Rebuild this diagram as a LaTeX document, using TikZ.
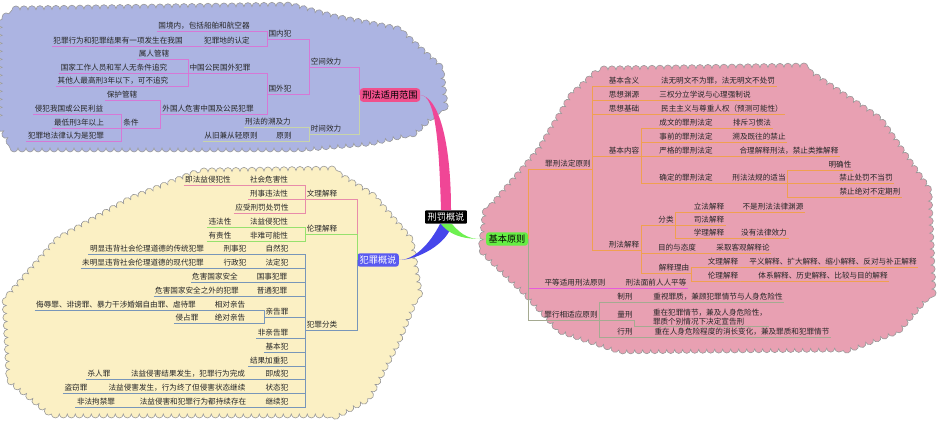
\documentclass[tikz,border=0pt]{standalone}
\usepackage{fontspec}
\setmainfont{Noto Sans CJK SC}
\usetikzlibrary{decorations.pathmorphing}
\definecolor{cloudB}{RGB}{172,180,226}
\definecolor{cloudY}{RGB}{251,240,196}
\definecolor{cloudP}{RGB}{232,160,178}
\definecolor{topM}{RGB}{214,120,214}
\definecolor{topT}{RGB}{200,212,170}
\definecolor{yelP}{RGB}{232,140,170}
\definecolor{yelG}{RGB}{150,225,110}
\definecolor{yelB}{RGB}{120,150,185}
\definecolor{pinkO}{RGB}{240,160,80}
\definecolor{pinkM}{RGB}{230,90,220}
\definecolor{pinkG}{RGB}{165,170,145}
\definecolor{scopeC}{RGB}{240,80,140}
\definecolor{crimeC}{RGB}{90,90,240}
\definecolor{basicC}{RGB}{102,238,68}
\definecolor{scopeL}{RGB}{240,70,150}
\definecolor{crimeL}{RGB}{70,70,235}
\definecolor{basicL}{RGB}{110,240,80}
\begin{document}
\begin{tikzpicture}[x=1pt,y=-1pt]
\tikzstyle{t}=[inner xsep=1.5pt,inner ysep=1.2pt,font=\fontsize{7.6}{9}\selectfont,text=black!85]
\tikzstyle{ul}=[append after command={(\tikzlastnode.south west) edge[#1,semithick] (\tikzlastnode.south east)}]
\tikzstyle{cloud}=[draw=black!40,semithick,decorate,decoration={bumps,segment length=16pt,amplitude=4pt}]
\tikzstyle{mainbox}=[rounded corners=3pt,inner sep=2.5pt,font=\fontsize{9.2}{11}\selectfont]
\useasboundingbox (0,0) rectangle (950,430);

% Clouds
\path[cloud,fill=cloudB] (12,10) -- (290,6) -- (335,18) -- (398,30) -- (440,68) -- (444,104) -- (414,132) -- (370,142) -- (300,148) -- (14,148) -- (2,128) -- (2,22) -- cycle;
\path[cloud,fill=cloudY] (200,172) -- (330,170) -- (372,196) -- (410,240) -- (418,290) -- (398,340) -- (368,398) -- (338,414) -- (52,414) -- (10,380) -- (6,300) -- (58,240) -- (130,200) -- cycle;
\path[cloud,fill=cloudP] (600,70) -- (800,67) -- (880,120) -- (928,190) -- (932,290) -- (898,330) -- (850,348) -- (620,350) -- (560,330) -- (525,292) -- (482,250) -- (486,214) -- (540,150) -- (572,96) -- cycle;

% Centre and main branches
\node (ctr) [mainbox,fill=black,text=white,rounded corners=1pt] at (446,217) {刑罚概说};
\node (scope) [mainbox,fill=scopeC] at (390,95) {刑法适用范围};
\node (crime) [mainbox,fill=crimeC,text=white] at (378,260) {犯罪概说};
\node (basic) [mainbox,fill=basicC] at (507,239) {基本原则};
\fill[scopeL] ([xshift=-5pt]ctr.north) .. controls +(-2,-70) and +(15,0) .. (scope.east) .. controls +(18,2) and +(0,-70) .. ([xshift=5pt]ctr.north);
\fill[crimeL] ([xshift=-6pt]ctr.south) .. controls +(-10,20) and +(15,0) .. (crime.east) .. controls +(18,0) and +(-4,20) .. ([xshift=6pt]ctr.south);
\fill[basicL] ([xshift=-5pt]ctr.south) .. controls +(12,15) and +(-15,0) .. (basic.west) .. controls +(-15,1) and +(10,12) .. ([xshift=6pt]ctr.south);

% 刑法适用范围
\node (kj) [t,ul=topM] at (326,62) {空间效力};
\node (gn) [t,ul=topM] at (280,34) {国内犯};
\node (gjn) [t,ul=topM] at (204,26) {国境内，包括船舶和航空器};
\node (fzd) [t,ul=topM] at (227,41) {犯罪地的认定};
\node (fzx) [t,ul=topM] at (118,41) {犯罪行为和犯罪结果有一项发生在我国};
\node (gw) [t,ul=topM] at (280,89) {国外犯};
\node (zgg) [t,ul=topM] at (220,68) {中国公民国外犯罪};
\node (srg) [t,ul=topM] at (154,54) {属人管辖};
\node (gjg) [t,ul=topM] at (114,68) {国家工作人员和军人无条件追究};
\node (qtr) [t,ul=topM] at (113,81) {其他人最高刑3年以下，可不追究};
\node (wgr) [t,ul=topM] at (208,109) {外国人危害中国及公民犯罪};
\node (bhg) [t,ul=topM] at (122,95) {保护管辖};
\node (tj) [t,ul=topM] at (131,123) {条件};
\node (qf) [t,ul=topM] at (69,109) {侵犯我国或公民利益};
\node (zdx) [t,ul=topM] at (79,123) {最低刑3年以上};
\node (fzdf) [t,ul=topM] at (66,136) {犯罪地法律认为是犯罪};
\node (sj) [t,ul=topT] at (326,129) {时间效力};
\node (sjl) [t,ul=topT] at (268,122) {刑法的溯及力};
\node (yz) [t,ul=topT] at (284,136) {原则};
\node (cjc) [t,ul=topT] at (231,136) {从旧兼从轻原则};
\draw[topM,semithick] (scope.west) |- (kj.south east);
\draw[topT,semithick] (scope.west) |- (sj.south east);
\foreach \p/\c in {kj/gn,kj/gw,gn/gjn,gn/fzd,fzd/fzx,gw/zgg,gw/wgr,zgg/srg,zgg/gjg,zgg/qtr,wgr/bhg,wgr/tj,tj/qf,tj/zdx,tj/fzdf}
  \draw[topM,semithick] (\p.south west) |- (\c.south east);
\foreach \p/\c in {sj/sjl,sj/yz,yz/cjc}
  \draw[topT,semithick] (\p.south west) |- (\c.south east);

% 犯罪概说
\node (wl) [t,ul=yelP] at (322,194) {文理解释};
\node (shh) [t,ul=yelP] at (269,180) {社会危害性};
\node (fyq) [t,ul=yelP] at (208,180) {即法益侵犯性};
\node (xsw) [t,ul=yelP] at (269,194) {刑事违法性};
\node (yss) [t,ul=yelP] at (262,208) {应受刑罚处罚性};
\node (ll) [t,ul=yelG] at (322,229) {伦理解释};
\node (fyqf) [t,ul=yelG] at (269,222) {法益侵犯性};
\node (wfx) [t,ul=yelG] at (220,222) {违法性};
\node (fnk) [t,ul=yelG] at (269,236) {非难可能性};
\node (yzx) [t,ul=yelG] at (220,236) {有责性};
\node (fl) [t,ul=yelB] at (322,325) {犯罪分类};
\node (zrf) [t,ul=yelB] at (277,249) {自然犯};
\node (xsf) [t,ul=yelB] at (235,249) {刑事犯};
\node (mx) [t,ul=yelB] at (147,249) {明显违背社会伦理道德的传统犯罪};
\node (fdf) [t,ul=yelB] at (277,263) {法定犯};
\node (xzf) [t,ul=yelB] at (235,263) {行政犯};
\node (wmx) [t,ul=yelB] at (143,263) {未明显违背社会伦理道德的现代犯罪};
\node (gsf) [t,ul=yelB] at (272,277) {国事犯罪};
\node (wh) [t,ul=yelB] at (215,277) {危害国家安全};
\node (ptf) [t,ul=yelB] at (272,291) {普通犯罪};
\node (whw) [t,ul=yelB] at (197,291) {危害国家安全之外的犯罪};
\node (qgz) [t,ul=yelB] at (277,312) {亲告罪};
\node (xdq) [t,ul=yelB] at (230,305) {相对亲告};
\node (wr) [t,ul=yelB] at (116,305) {侮辱罪、诽谤罪、暴力干涉婚姻自由罪、虐待罪};
\node (jdq) [t,ul=yelB] at (230,318) {绝对亲告};
\node (qzz) [t,ul=yelB] at (187,318) {侵占罪};
\node (fqg) [t,ul=yelB] at (273,333) {非亲告罪};
\node (jbf) [t,ul=yelB] at (277,347) {基本犯};
\node (jgj) [t,ul=yelB] at (269,361) {结果加重犯};
\node (jcf) [t,ul=yelB] at (277,374) {即成犯};
\node (jcd) [t,ul=yelB] at (188,374) {法益侵害结果发生，犯罪行为完成};
\node (srz) [t,ul=yelB] at (99,374) {杀人罪};
\node (ztf) [t,ul=yelB] at (277,388) {状态犯};
\node (ztd) [t,ul=yelB] at (177,388) {法益侵害发生，行为终了但侵害状态继续};
\node (dqz) [t,ul=yelB] at (76,388) {盗窃罪};
\node (jxf) [t,ul=yelB] at (277,402) {继续犯};
\node (jxd) [t,ul=yelB] at (193,402) {法益侵害和犯罪行为都持续存在};
\node (ffj) [t,ul=yelB] at (96,402) {非法拘禁罪};
\draw[yelP,semithick] (crime.west) |- (wl.south east);
\draw[yelG,semithick] (crime.west) |- (ll.south east);
\draw[yelB,semithick] (crime.west) |- (fl.south east);
\foreach \p/\c in {wl/shh,wl/xsw,wl/yss,shh/fyq}
  \draw[yelP,semithick] (\p.south west) |- (\c.south east);
\foreach \p/\c in {ll/fyqf,ll/fnk,fyqf/wfx,fnk/yzx}
  \draw[yelG,semithick] (\p.south west) |- (\c.south east);
\foreach \p/\c in {fl/zrf,fl/fdf,fl/gsf,fl/ptf,fl/qgz,fl/fqg,fl/jbf,fl/jgj,fl/jcf,fl/ztf,fl/jxf,zrf/xsf,xsf/mx,fdf/xzf,xzf/wmx,gsf/wh,ptf/whw,qgz/xdq,qgz/jdq,xdq/wr,jdq/qzz,jcf/jcd,jcd/srz,ztf/ztd,ztd/dqz,jxf/jxd,jxd/ffj}
  \draw[yelB,semithick] (\p.south west) |- (\c.south east);

% 基本原则
\node (zxfd) [t,ul=pinkO] at (568,164) {罪刑法定原则};
\node (jbhy) [t,ul=pinkO] at (624,81) {基本含义};
\node (jbhyd) [t,ul=pinkO] at (718,81) {法无明文不为罪，法无明文不处罚};
\node (sxyy) [t,ul=pinkO] at (624,95) {思想渊源};
\node (sxyyd) [t,ul=pinkO] at (705,95) {三权分立学说与心理强制说};
\node (sxjc) [t,ul=pinkO] at (624,109) {思想基础};
\node (sxjcd) [t,ul=pinkO] at (722,109) {民主主义与尊重人权（预测可能性）};
\node (jbnr) [t,ul=pinkO] at (624,151) {基本内容};
\node (cw) [t,ul=pinkO] at (686,123) {成文的罪刑法定};
\node (cwd) [t,ul=pinkO] at (752,123) {排斥习惯法};
\node (sq) [t,ul=pinkO] at (686,137) {事前的罪刑法定};
\node (sqd) [t,ul=pinkO] at (759,137) {溯及既往的禁止};
\node (yg) [t,ul=pinkO] at (686,151) {严格的罪刑法定};
\node (ygd) [t,ul=pinkO] at (789,151) {合理解释刑法，禁止类推解释};
\node (qd) [t,ul=pinkO] at (686,178) {确定的罪刑法定};
\node (sd) [t,ul=pinkO] at (759,178) {刑法法规的适当};
\node (mqx) [t,ul=pinkO] at (840,165) {明确性};
\node (jzcf) [t,ul=pinkO] at (866,178) {禁止处罚不当罚};
\node (jzjd) [t,ul=pinkO] at (870,192) {禁止绝对不定期刑};
\node (xfjs) [t,ul=pinkO] at (624,245) {刑法解释};
\node (flei) [t,ul=pinkO] at (666,220) {分类};
\node (lfjs) [t,ul=pinkO] at (709,207) {立法解释};
\node (lfjsd) [t,ul=pinkO] at (773,207) {不是刑法法律渊源};
\node (sfjs) [t,ul=pinkO] at (709,220) {司法解释};
\node (xljs) [t,ul=pinkO] at (709,233) {学理解释};
\node (xljsd) [t,ul=pinkO] at (764,233) {没有法律效力};
\node (mdty) [t,ul=pinkO] at (677,248) {目的与态度};
\node (mdtyd) [t,ul=pinkO] at (743,248) {采取客观解释论};
\node (jsly) [t,ul=pinkO] at (674,268) {解释理由};
\node (wljs) [t,ul=pinkO] at (723,262) {文理解释};
\node (wljsd) [t,ul=pinkO] at (833,262) {平义解释、扩大解释、缩小解释、反对与补正解释};
\node (lljs) [t,ul=pinkO] at (723,276) {伦理解释};
\node (lljsd) [t,ul=pinkO] at (823,276) {体系解释、历史解释、比较与目的解释};
\node (pd) [t,ul=pinkM] at (575,283) {平等适用刑法原则};
\node (pdd) [t,ul=pinkM] at (656,283) {刑法面前人人平等};
\node (zxxs) [t,ul=pinkG] at (571,315) {罪行相适应原则};
\node (zx) [t,ul=pinkG] at (625,297) {制刑};
\node (zxd) [t,ul=pinkG] at (718,297) {重视罪质，兼顾犯罪情节与人身危险性};
\node (lx) [t,ul=pinkG] at (625,315) {量刑};
\node (lxd) [t,ul=pinkG,align=left] at (710,317) {重在犯罪情节，兼及人身危险性，\\罪质个别情况下决定宣告刑};
\node (xx) [t,ul=pinkG] at (625,332) {行刑};
\node (xxd) [t,ul=pinkG] at (742,332) {重在人身危险程度的消长变化，兼及罪质和犯罪情节};
\draw[pinkO,semithick] (basic.east) |- (zxfd.south west);
\draw[pinkM,semithick] (basic.east) |- (pd.south west);
\draw[pinkG,semithick] (basic.east) |- (zxxs.south west);
\foreach \p/\c in {zxfd/jbhy,zxfd/sxyy,zxfd/sxjc,zxfd/jbnr,zxfd/xfjs,jbhy/jbhyd,sxyy/sxyyd,sxjc/sxjcd,jbnr/cw,jbnr/sq,jbnr/yg,jbnr/qd,cw/cwd,sq/sqd,yg/ygd,qd/sd,sd/mqx,sd/jzcf,sd/jzjd,xfjs/flei,xfjs/mdty,xfjs/jsly,flei/lfjs,flei/sfjs,flei/xljs,lfjs/lfjsd,xljs/xljsd,mdty/mdtyd,jsly/wljs,jsly/lljs,wljs/wljsd,lljs/lljsd}
  \draw[pinkO,semithick] (\p.south east) |- (\c.south west);
\draw[pinkM,semithick] (pd.south east) |- (pdd.south west);
\foreach \p/\c in {zxxs/zx,zxxs/lx,zxxs/xx,zx/zxd,lx/lxd,xx/xxd}
  \draw[pinkG,semithick] (\p.south east) |- (\c.south west);
\end{tikzpicture}
\end{document}
